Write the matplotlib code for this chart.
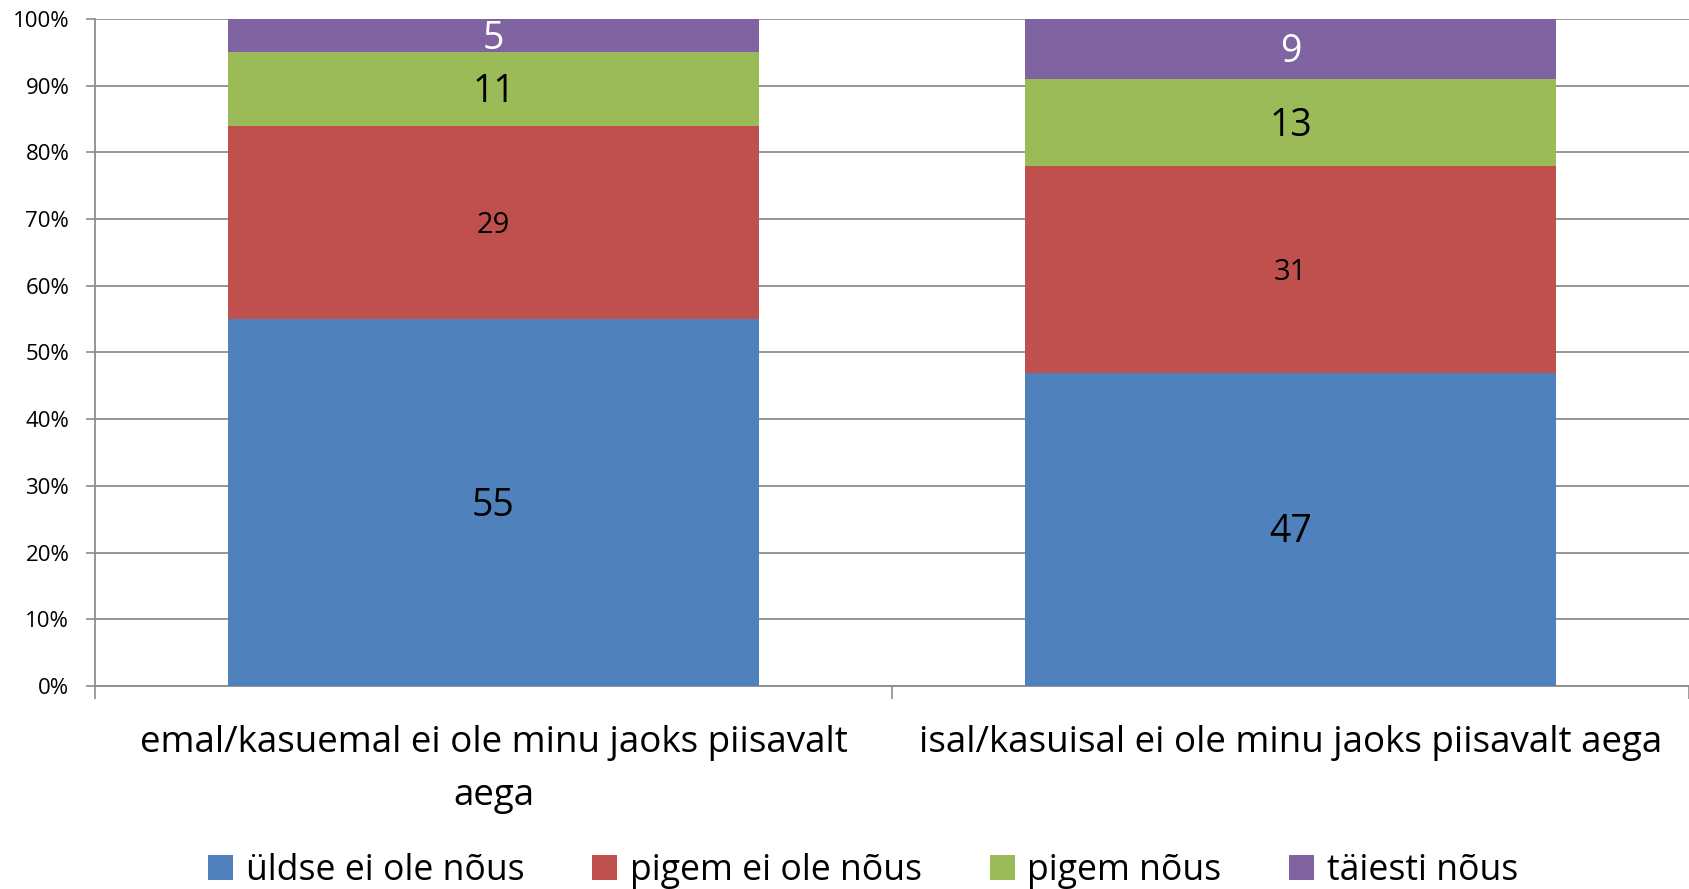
import numpy as np
import matplotlib.pyplot as plt
from matplotlib.patches import Patch
from matplotlib.ticker import FuncFormatter, FixedLocator

plt.rcParams['font.family'] = ['Open Sans', 'DejaVu Sans']

categories = ["emal/kasuemal ei ole minu jaoks piisavalt\naega",
              "isal/kasuisal ei ole minu jaoks piisavalt aega"]
series_names = ["üldse ei ole nõus", "pigem ei ole nõus", "pigem nõus", "täiesti nõus"]

uldse_ei = [55, 47]
pigem_ei = [29, 31]
pigem_nous = [11, 13]
taiesti_nous = [5, 9]

colors = ["#4F81BD", "#C0504D", "#9BBB59", "#8064A2"]
label_sizes = [27, 21, 27, 27]
label_colors = ["black", "black", "black", "white"]


def main():
    data = np.array([uldse_ei, pigem_ei, pigem_nous, taiesti_nous], dtype=float)
    shares = data / data.sum(axis=0) * 100

    fig = plt.figure(figsize=(16.89, 8.89), dpi=100)
    ax = fig.add_axes([95 / 1689, 1 - 686 / 889, 1 - 95 / 1689, (686 - 19) / 889])

    x = np.arange(len(categories))
    bottom = np.zeros(len(categories))
    handles = []
    for i, name in enumerate(series_names):
        ax.bar(x, shares[i], bottom=bottom, width=0.667, color=colors[i],
               edgecolor="none", zorder=3)
        for j in range(len(categories)):
            ax.annotate(f"{data[i][j]:g}", (x[j], bottom[j] + shares[i][j] / 2),
                        xytext=(0, -2.3), textcoords="offset points",
                        ha="center", va="center", fontsize=label_sizes[i],
                        color=label_colors[i], zorder=4)
        bottom += shares[i]
        handles.append(Patch(facecolor=colors[i], edgecolor="none", label=name))

    ax.set_xlim(-0.5, 1.5)
    ax.set_ylim(0, 100)
    ax.set_yticks(np.arange(0, 101, 10))
    ax.yaxis.set_major_formatter(FuncFormatter(lambda v, p: f"{v:.0f}%"))
    ax.yaxis.grid(True, color="#8C8C8C", linewidth=1.3, zorder=0)
    ax.tick_params(axis="y", length=6.5, width=1.2, color="#8C8C8C",
                   labelsize=16, pad=12)

    ax.xaxis.set_major_locator(FixedLocator([-0.5, 0.5, 1.5]))
    ax.xaxis.set_major_formatter(FuncFormatter(lambda v, p: ""))
    ax.set_xticks(x, minor=True)
    ax.set_xticklabels(categories, minor=True, fontsize=26.5, linespacing=1.65)
    ax.tick_params(axis="x", which="major", length=9.5, width=1.2,
                   color="#8C8C8C")
    ax.tick_params(axis="x", which="minor", length=0, pad=28)

    for side in ["top", "right"]:
        ax.spines[side].set_visible(False)
    for side in ["left", "bottom"]:
        ax.spines[side].set_color("#8C8C8C")
        ax.spines[side].set_linewidth(1.3)
    ax.set_axisbelow(True)

    fig.legend(handles=handles, loc="center", bbox_to_anchor=(0.511, 0.02),
               ncol=4, frameon=False, fontsize=25.7, handlelength=0.7,
               handleheight=0.7, handletextpad=0.35, columnspacing=1.9)

    fig.savefig("out.png", dpi=100)


if __name__ == "__main__":
    main()
